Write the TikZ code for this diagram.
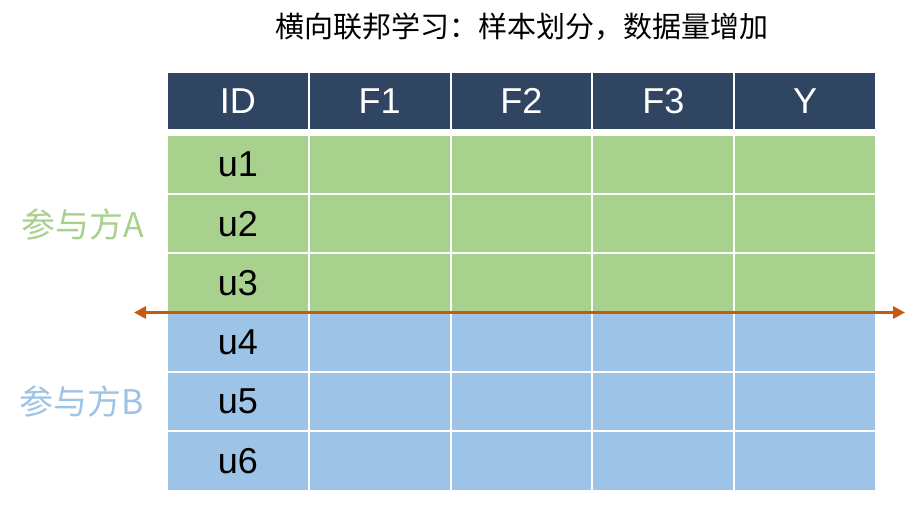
\documentclass[tikz,border=0pt]{standalone}
\usepackage{fontspec}
\setmainfont{Liberation Sans}
\newfontfamily\cjk{Noto Sans CJK SC}
\usetikzlibrary{arrows.meta}
\definecolor{hdr}{HTML}{2F4562}
\definecolor{grn}{HTML}{A9D18E}
\definecolor{blu}{HTML}{9DC3E6}
\definecolor{arr}{HTML}{C55A11}
\tikzset{
  cellbase/.style={rectangle, inner sep=0pt, minimum width=139.8pt, font=\fontsize{36}{38}\selectfont},
  hdrcell/.style={cellbase, fill=hdr, text=white, minimum height=56pt},
  gcell/.style={cellbase, fill=grn, text=black, minimum height=57.3pt},
  bcell/.style={cellbase, fill=blu, text=black, minimum height=57.3pt},
  party/.style={anchor=east, inner sep=0pt, font=\cjk\fontsize{34}{36}\selectfont},
  splitarrow/.style={draw=arr, line width=3.4pt, {Triangle[length=12pt,width=12pt]}-{Triangle[length=12pt,width=12pt]}}
}
\begin{document}
\begin{tikzpicture}[x=1pt,y=-1pt]
\useasboundingbox (0,0) rectangle (919,507);
\node[font=\cjk\fontsize{29}{31}\selectfont] (title) at (521.5,26.5) {横向联邦学习：样本划分，数据量增加};
% header
\foreach \t [count=\i from 0] in {ID,F1,F2,F3,Y}{
  \node[hdrcell] (h\i) at ({167+141.8*\i+70.9},101) {\t};
}
% body rows
\foreach \r in {0,1,2}{
  \foreach \c in {0,...,4}{
    \node[gcell] (c\r\c) at ({167+141.8*\c+70.9},{134.7+59.33*\r+29.67}) {};
  }
}
\foreach \r in {3,4,5}{
  \foreach \c in {0,...,4}{
    \node[bcell] (c\r\c) at ({167+141.8*\c+70.9},{134.7+59.33*\r+29.67}) {};
  }
}
\foreach \r [count=\k from 0] in {1,...,6}{
  \node[cellbase] at (c\k0) {u\r};
}
\node[party, text=grn] (pa) at (144,225) {参与方A};
\node[party, text=blu] (pb) at (144,402) {参与方B};
\coordinate (al) at (134,312.5);
\coordinate (ar) at (905,312.5);
\draw[splitarrow] (al) -- (ar);
\end{tikzpicture}
\end{document}
